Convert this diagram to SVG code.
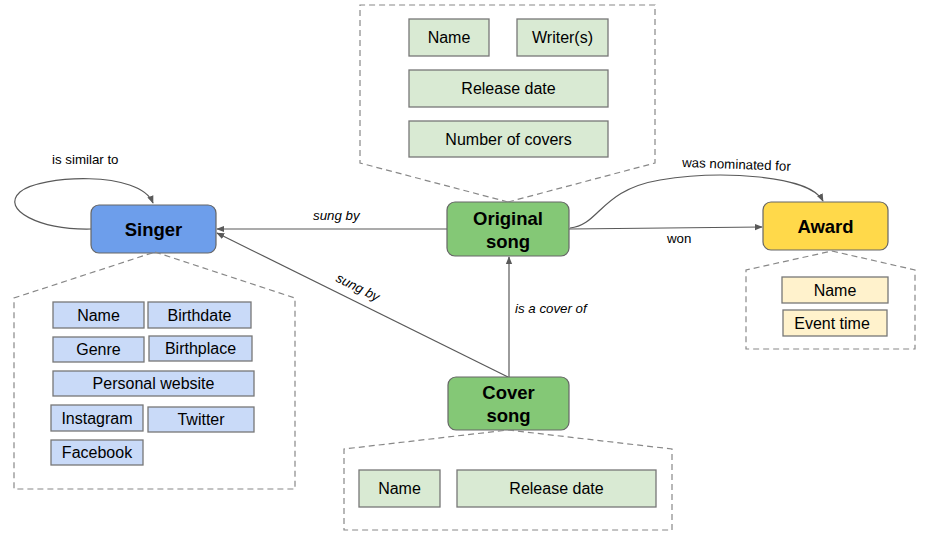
<svg xmlns="http://www.w3.org/2000/svg" width="925" height="537" viewBox="0 0 925 537">
<defs>
<marker id="arr" viewBox="0 0 10 10" refX="9" refY="5" markerWidth="8" markerHeight="8" orient="auto" markerUnits="userSpaceOnUse">
<path d="M0,1 L10,5 L0,9 z" fill="#595959"/>
</marker>
<style>
text{font-family:"Liberation Sans",Arial,sans-serif;fill:#000}
.node{stroke:#666;stroke-width:1.2}
.title{font-size:18.5px;font-weight:bold;text-anchor:middle}
.attr{stroke:#777;stroke-width:1.3}
.at{font-size:16px;text-anchor:middle}
.blue{fill:#c9daf8}.green{fill:#d9ead3}.yellow{fill:#fff2cc}
.dash{fill:none;stroke:#888;stroke-width:1.2;stroke-dasharray:6,4}
.edge{fill:none;stroke:#595959;stroke-width:1.2}
.el{font-size:13.3px}
.it{font-style:italic}
</style>
</defs>
<rect width="925" height="537" fill="#fff"/>
<g id="connectors">
<path class="edge" d="M91,229 C40,230 0,210 20,192 C40,175 140,170 153,203" marker-end="url(#arr)"/>
<text class="el" x="52" y="164">is similar to</text>
<line class="edge" x1="447" y1="229" x2="217" y2="229" marker-end="url(#arr)"/>
<text class="el it" x="313" y="220">sung by</text>
<line class="edge" x1="508" y1="377" x2="217" y2="233" marker-end="url(#arr)"/>
<text class="el it" transform="translate(335,281) rotate(26.4)">sung by</text>
<line class="edge" x1="509" y1="377" x2="509" y2="257" marker-end="url(#arr)"/>
<text class="el it" x="515" y="313">is a cover of</text>
<line class="edge" x1="569" y1="229" x2="762" y2="227" marker-end="url(#arr)"/>
<text class="el" x="667" y="243">won</text>
<path class="edge" d="M570,228 C600,225 600,190 660,180 C720,170 810,175 823,201" marker-end="url(#arr)"/>
<text class="el" transform="translate(682,167) rotate(2)">was nominated for</text>
</g>
<g id="singer">
<rect class="node" x="91" y="205" width="125" height="48" rx="8" fill="#6d9eeb"/>
<text class="title" x="153.5" y="236">Singer</text>
</g>
<g id="singer-attributes">
<path class="dash" d="M155,252 L295,298 L295,489 L14,489 L14,298 Z"/>
<rect class="attr blue" x="53" y="302" width="91" height="26"/><text class="at" x="98.5" y="321">Name</text>
<rect class="attr blue" x="148" y="302" width="103" height="26"/><text class="at" x="199.5" y="321">Birthdate</text>
<rect class="attr blue" x="53" y="337" width="91" height="25"/><text class="at" x="98.5" y="355">Genre</text>
<rect class="attr blue" x="149" y="336" width="103" height="25"/><text class="at" x="200.5" y="354">Birthplace</text>
<rect class="attr blue" x="53" y="371" width="201" height="25"/><text class="at" x="153.5" y="389">Personal website</text>
<rect class="attr blue" x="51" y="405" width="92" height="26"/><text class="at" x="97" y="424">Instagram</text>
<rect class="attr blue" x="148" y="407" width="106" height="25"/><text class="at" x="201" y="425">Twitter</text>
<rect class="attr blue" x="51" y="440" width="92" height="25"/><text class="at" x="97" y="458">Facebook</text>
</g>
<g id="original-song">
<rect class="node" x="447" y="202" width="122" height="54" rx="8" fill="#84c876"/>
<text class="title" x="508" y="225">Original</text>
<text class="title" x="508" y="248">song</text>
</g>
<g id="original-song-attributes">
<path class="dash" d="M508,202 L655,163 L655,5 L360,5 L360,163 Z"/>
<rect class="attr green" x="409" y="19" width="80" height="37"/><text class="at" x="449" y="43">Name</text>
<rect class="attr green" x="517" y="19" width="91" height="37"/><text class="at" x="562.5" y="43">Writer(s)</text>
<rect class="attr green" x="409" y="70" width="199" height="37"/><text class="at" x="508.5" y="94">Release date</text>
<rect class="attr green" x="409" y="121" width="199" height="36"/><text class="at" x="508.5" y="145">Number of covers</text>
</g>
<g id="award">
<rect class="node" x="763" y="202" width="125" height="48" rx="8" fill="#ffd94a"/>
<text class="title" x="825.5" y="233">Award</text>
</g>
<g id="award-attributes">
<path class="dash" d="M832,251 L915,270 L915,349 L746,349 L746,270 Z"/>
<rect class="attr yellow" x="782" y="277" width="106" height="26"/><text class="at" x="835" y="296">Name</text>
<rect class="attr yellow" x="783" y="310" width="104" height="26"/><text class="at" x="832" y="329">Event time</text>
</g>
<g id="cover-song">
<rect class="node" x="448" y="377" width="121" height="53" rx="8" fill="#84c876"/>
<text class="title" x="508.5" y="399">Cover</text>
<text class="title" x="508.5" y="422">song</text>
</g>
<g id="cover-song-attributes">
<path class="dash" d="M508,430 L672,449 L672,530 L344,530 L344,449 Z"/>
<rect class="attr green" x="359" y="470" width="81" height="37"/><text class="at" x="399.5" y="494">Name</text>
<rect class="attr green" x="457" y="470" width="199" height="37"/><text class="at" x="556.5" y="494">Release date</text>
</g>
</svg>
